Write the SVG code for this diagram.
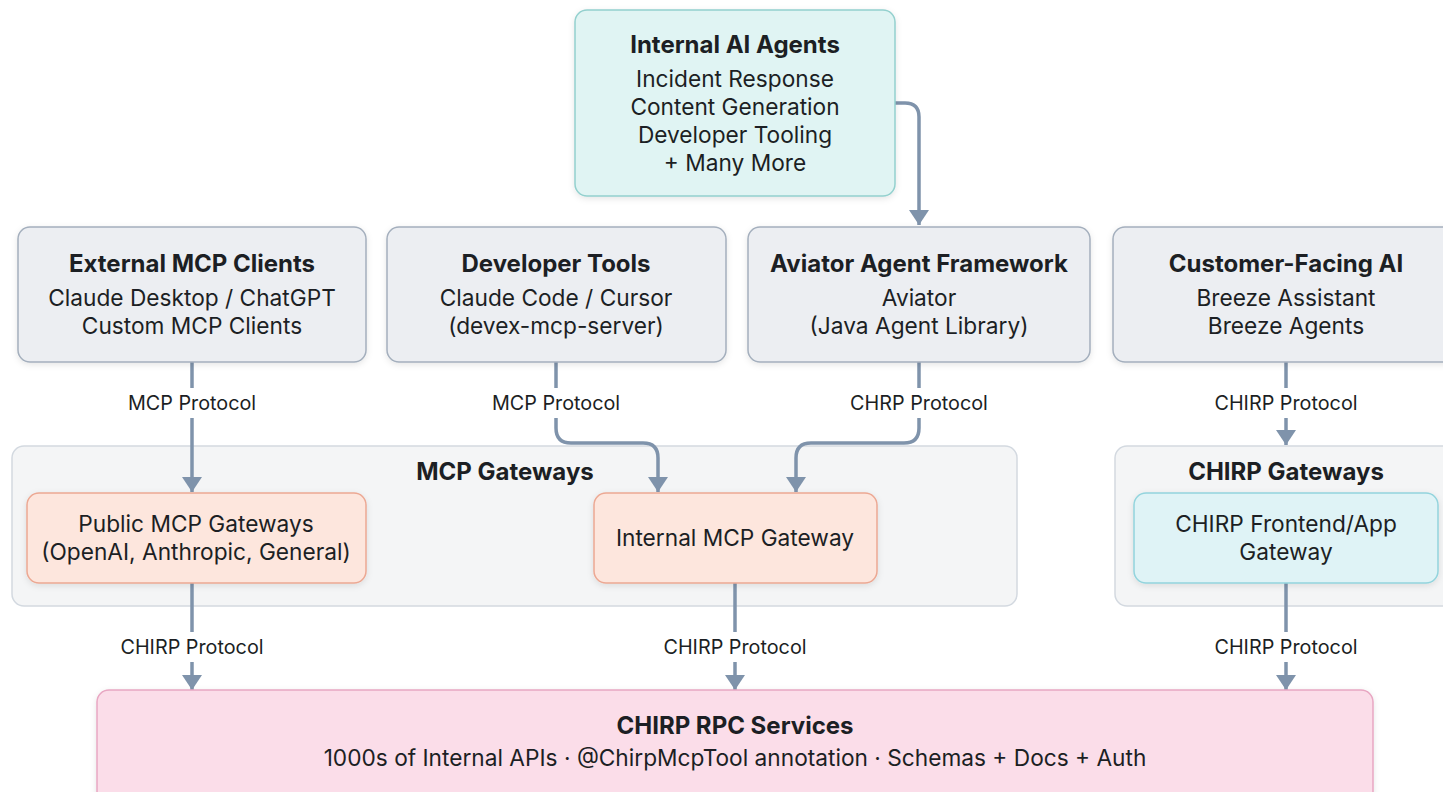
<svg xmlns="http://www.w3.org/2000/svg" width="1443" height="792" viewBox="0 0 1443 792">
<defs>
<style>
.t{font-family:Inter,"Noto Sans","Liberation Sans",sans-serif;fill:#1c1f24;text-anchor:middle}
.h{font-size:24px;font-weight:700}
.b{font-size:22.7px;font-weight:400}
.l{font-size:19.8px;font-weight:400}
.c{fill:none;stroke:#7f93ab;stroke-width:3.5}
.gray{fill:#eceef2;stroke:#a4afbd;stroke-width:1.5}
.grp{fill:#f4f5f6;stroke:#d3d9e0;stroke-width:1.5}
.sal{fill:#fde6dd;stroke:#eca893;stroke-width:1.5}
.teal{fill:#e0f4f3;stroke:#93d0ce;stroke-width:1.5}
.cyan{fill:#dff3f6;stroke:#93d4dd;stroke-width:1.5}
.pink{fill:#fbdde9;stroke:#e8a6c2;stroke-width:1.5}
</style>
<marker id="ah" markerUnits="userSpaceOnUse" markerWidth="20" markerHeight="20" refX="15" refY="10" orient="auto">
<path d="M0 0 L15 10 L0 20 Z" fill="#7f93ab"/>
</marker>
<filter id="sh" x="-5%" y="-5%" width="110%" height="120%">
<feDropShadow dx="0" dy="2" stdDeviation="3" flood-color="#000" flood-opacity="0.10"/>
</filter>
</defs>
<rect width="1443" height="792" fill="#ffffff"/>

<g id="mcp-gateways">
<rect class="grp" x="12" y="446" width="1005" height="160" rx="12"/>
<text class="t h" x="505" y="480">MCP Gateways</text>
</g>
<g id="chirp-gateways">
<rect class="grp" x="1115" y="446" width="345" height="160" rx="12"/>
<text class="t h" x="1286" y="480">CHIRP Gateways</text>
</g>

<g id="connectors">
<path class="c" d="M895 103 H905 Q919 103 919 117 V225" marker-end="url(#ah)"/>
<path class="c" d="M192 362 V388"/>
<path class="c" d="M192 418 V492" marker-end="url(#ah)"/>
<path class="c" d="M556 362 V388"/>
<path class="c" d="M556 418 V428 Q556 443 571 443 H643 Q658 443 658 458 V492" marker-end="url(#ah)"/>
<path class="c" d="M919 362 V388"/>
<path class="c" d="M919 418 V428 Q919 443 904 443 H811 Q796 443 796 458 V492" marker-end="url(#ah)"/>
<path class="c" d="M1286 362 V388"/>
<path class="c" d="M1286 418 V445" marker-end="url(#ah)"/>
<path class="c" d="M192 583 V632"/>
<path class="c" d="M192 662 V690" marker-end="url(#ah)"/>
<path class="c" d="M735 583 V632"/>
<path class="c" d="M735 662 V690" marker-end="url(#ah)"/>
<path class="c" d="M1286 583 V632"/>
<path class="c" d="M1286 662 V690" marker-end="url(#ah)"/>
<text class="t l" x="192" y="410">MCP Protocol</text>
<text class="t l" x="556" y="410">MCP Protocol</text>
<text class="t l" x="919" y="410">CHRP Protocol</text>
<text class="t l" x="1286" y="410">CHIRP Protocol</text>
<text class="t l" x="192" y="654">CHIRP Protocol</text>
<text class="t l" x="735" y="654">CHIRP Protocol</text>
<text class="t l" x="1286" y="654">CHIRP Protocol</text>
</g>

<g id="internal-ai-agents">
<rect class="teal" x="575" y="10" width="320" height="186" rx="12" filter="url(#sh)"/>
<text class="t h" x="735" y="53">Internal AI Agents</text>
<text class="t b" x="735" y="87">Incident Response</text>
<text class="t b" x="735" y="115">Content Generation</text>
<text class="t b" x="735" y="143">Developer Tooling</text>
<text class="t b" x="735" y="171">+ Many More</text>
</g>

<g id="external-mcp-clients">
<rect class="gray" x="18" y="227" width="348" height="135" rx="12" filter="url(#sh)"/>
<text class="t h" x="192" y="272">External MCP Clients</text>
<text class="t b" x="192" y="306">Claude Desktop / ChatGPT</text>
<text class="t b" x="192" y="334">Custom MCP Clients</text>
</g>

<g id="developer-tools">
<rect class="gray" x="387" y="227" width="339" height="135" rx="12" filter="url(#sh)"/>
<text class="t h" x="556" y="272">Developer Tools</text>
<text class="t b" x="556" y="306">Claude Code / Cursor</text>
<text class="t b" x="556" y="334">(devex-mcp-server)</text>
</g>

<g id="aviator-agent-framework">
<rect class="gray" x="748" y="227" width="342" height="135" rx="12" filter="url(#sh)"/>
<text class="t h" x="919" y="272">Aviator Agent Framework</text>
<text class="t b" x="919" y="306">Aviator</text>
<text class="t b" x="919" y="334">(Java Agent Library)</text>
</g>

<g id="customer-facing-ai">
<rect class="gray" x="1113" y="227" width="345" height="135" rx="12" filter="url(#sh)"/>
<text class="t h" x="1286" y="272">Customer-Facing AI</text>
<text class="t b" x="1286" y="306">Breeze Assistant</text>
<text class="t b" x="1286" y="334">Breeze Agents</text>
</g>

<g id="public-mcp-gateways">
<rect class="sal" x="27" y="493" width="339" height="90" rx="12" filter="url(#sh)"/>
<text class="t b" x="196" y="532">Public MCP Gateways</text>
<text class="t b" x="196" y="560">(OpenAI, Anthropic, General)</text>
</g>

<g id="internal-mcp-gateway">
<rect class="sal" x="594" y="493" width="283" height="90" rx="12" filter="url(#sh)"/>
<text class="t b" x="735" y="546">Internal MCP Gateway</text>
</g>

<g id="chirp-frontend-gateway">
<rect class="cyan" x="1134" y="493" width="304" height="90" rx="12" filter="url(#sh)"/>
<text class="t b" x="1286" y="532">CHIRP Frontend/App</text>
<text class="t b" x="1286" y="560">Gateway</text>
</g>

<g id="chirp-rpc-services">
<rect class="pink" x="97" y="690" width="1276" height="120" rx="12" filter="url(#sh)"/>
<text class="t h" x="735" y="734">CHIRP RPC Services</text>
<text class="t b" x="735" y="766">1000s of Internal APIs · @ChirpMcpTool annotation · Schemas + Docs + Auth</text>
</g>
</svg>
